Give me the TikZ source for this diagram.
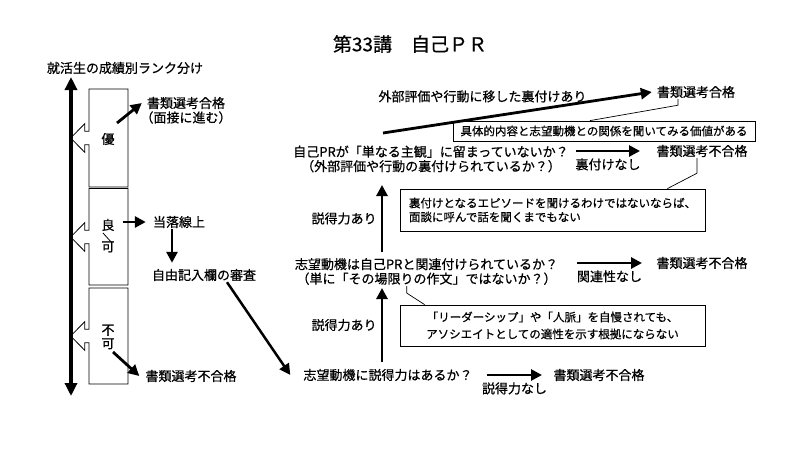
\documentclass[tikz,border=0pt]{standalone}
\usepackage{fontspec}
\setmainfont{Noto Sans CJK JP}[FakeBold=0.6]
\usetikzlibrary{arrows.meta}

\begin{document}
\begin{tikzpicture}[
x=1pt,y=-1pt,
txt/.style={
  inner sep=1pt,
  font=\fontsize{13}{14.5}\selectfont
},
memo/.style={
  draw=black,
  line width=0.8pt,
  inner sep=1pt,
  font=\fontsize{11.5}{14}\selectfont
},
flow/.style={-{Triangle[length=11pt,width=11pt]},line width=2.8pt},
branchnote/.style={black,inner sep=1pt,font=\fontsize{13}{14.5}\selectfont},
callout/.style={line width=0.7pt},
rankline/.style={line width=0.8pt}
]

\fill [white] (0,0) rectangle (800,450);
\useasboundingbox (0,0) rectangle (800,450);

\node (title) at (410,44) [txt,font=\fontsize{19}{21}\selectfont] {第33講　自己ＰＲ};
\node (rank) at (125,68) [txt] {就活生の成績別ランク分け};

% rank scale
\coordinate (axtop) at (71,77);
\coordinate (axbot) at (71,396);
\draw [{Triangle[length=13pt,width=12pt]}-{Triangle[length=13pt,width=12pt]},line width=4pt] (axtop) -- (axbot);

\draw [rankline] (128,89) -- (89,89) -- (89,131.3) -- (84.7,131.3) -- (84.7,123.7) -- (70.7,138) -- (84.7,152.3) -- (84.7,144.7) -- (89,144.7) -- (89,187) -- (128,187) -- cycle;
\draw [rankline] (128,188.5) -- (89,188.5) -- (89,230.3) -- (84.7,230.3) -- (84.7,222.7) -- (70.7,237) -- (84.7,251.3) -- (84.7,243.7) -- (89,243.7) -- (89,285) -- (128,285) -- cycle;
\draw [rankline] (128,288) -- (89,288) -- (89,329.3) -- (84.7,329.3) -- (84.7,321.7) -- (70.7,336) -- (84.7,350.3) -- (84.7,342.7) -- (89,342.7) -- (89,384) -- (128,384) -- cycle;

\node (yu) at (108,139) [txt] {優};
\node (ryo) at (108,225) [txt] {良};
\node (ka) at (108,247) [txt] {可};
\node (fuka) at (108,337) [txt,align=center,font=\fontsize{13}{13.5}\selectfont] {不\\可};
\draw [rankline] ([shift={(-5pt,-8pt)}]ryo.center) -- ([shift={(4pt,4pt)}]ka.center);

\node (pass1) at (186,103) [txt] {書類選考合格};
\node (pass1sub) at (186,117.5) [txt] {（面接に進む）};
\node (tora) at (179,222) [txt] {当落線上};
\node (jiyu) at (204,275) [txt] {自由記入欄の審査};
\node (fail0) at (191,376) [txt] {書類選考不合格};

% screening steps
\node (q1) at (388,375) [txt] {志望動機に説得力はあるか？};
\node (fail1) at (599,375) [txt] {書類選考不合格};
\node (q2) at (426.5,271.5) [txt,align=center] {志望動機は自己PRと関連付けられているか？\\（単に「その場限りの作文」ではないか？）};
\node (fail2) at (702,263) [txt] {書類選考不合格};
\node (q3) at (431,159) [txt,align=center] {自己PRが「単なる主観」に留まっていないか？\\（外部評価や行動の裏付けられているか？）};
\node (fail3) at (702,151) [txt] {書類選考不合格};
\node (pass2) at (696,92) [txt] {書類選考合格};

\node (memo1) at (604,131) [memo,minimum width=302pt,minimum height=20pt] {具体的内容と志望動機との関係を聞いてみる価値がある};
\node (memo2) at (552.5,210) [memo,align=left,minimum width=305pt,minimum height=42pt] {裏付けとなるエピソードを聞けるわけではないならば、\\面談に呼んで話を聞くまでもない};
\node (memo3) at (552.5,325.5) [memo,align=center,minimum width=305pt,minimum height=41pt,font=\fontsize{11.5}{17}\selectfont] {「リーダーシップ」や「人脈」を自慢されても、\\アソシエイトとしての適性を示す根拠にならない};

\draw [flow] ([shift={(9pt,16pt)}]yu.center) -- ([xshift=-4pt]pass1.west);
\draw [flow] ([shift={(15pt,3pt)}]ryo.center) -- ([xshift=-6pt]tora.west);
\draw [flow] ([xshift=-7pt]tora.south) -- ([shift={(-32pt,5pt)}]jiyu.north);
\draw [flow,line width=2.5pt] ([xshift=23pt]jiyu.south) -- ([xshift=-12pt]q1.west);
\draw [flow] ([shift={(5pt,-15pt)}]fuka.center) -- ([xshift=-5pt]fail0.west);

\draw [flow] ([xshift=99pt]q1.center) -- node [branchnote,below=5pt] {説得力なし} ([xshift=-57pt]fail1.center);
\draw [flow] ([shift={(-6pt,13pt)}]q1.center) -- node [branchnote,left=3pt] {説得力あり} ([shift={(-44.5pt,-16.5pt)}]q2.center);
\draw [flow] ([shift={(150.5pt,8.5pt)}]q2.center) -- node [branchnote,below=5pt] {関連性なし} ([xshift=-60pt]fail2.center);
\draw [flow] ([shift={(-44.5pt,19.5pt)}]q2.center) -- node [branchnote,left=3pt] {説得力あり} ([shift={(-49pt,-26pt)}]q3.center);
\draw [flow] ([shift={(145pt,8pt)}]q3.center) -- node [branchnote,below=5pt] {裏付けなし} ([xshift=-62pt]fail3.center);
\draw [flow] ([shift={(-48pt,26pt)}]q3.center) -- node [branchnote,pos=0.37,above=13pt] {外部評価や行動に移した裏付けあり} ([xshift=-4pt]pass2.west);

\draw [callout] ([xshift=-18pt]pass2.south) -- ++(0,6) -- ([xshift=-14pt]memo1.north);
\draw [callout] ([xshift=-5pt]fail3.south) -- ++(0,15) -- ([xshift=-38pt]memo2.north east);
\draw [callout] ([xshift=-19.8pt]q2.south) -- ++(0,7) -- ([xshift=25pt]memo3.north west);

\end{tikzpicture}
\end{document}
